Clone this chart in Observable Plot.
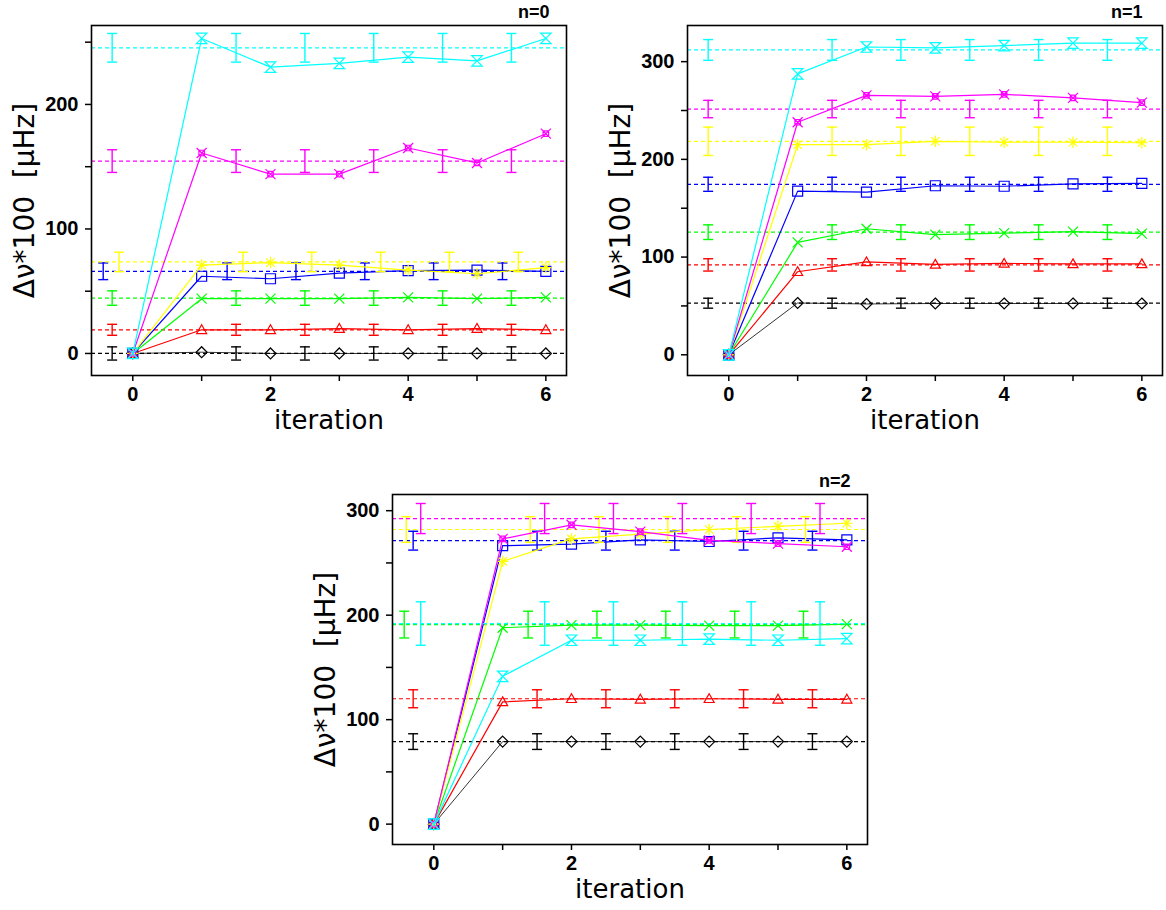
<!DOCTYPE html>
<html><head><meta charset="utf-8">
<script src="https://cdn.jsdelivr.net/npm/d3@7"></script>
<script src="https://cdn.jsdelivr.net/npm/@observablehq/plot@0.6"></script>
<style>
body{margin:0;background:#fff;}
#wrap{position:relative;width:1166px;height:910px;background:#fff;overflow:hidden}
#wrap > svg{position:absolute;}
</style></head><body><div id="wrap"></div>
<script>
// ---------- data ----------
const iterations = [0, 1, 2, 3, 4, 5, 6];
const errBarX = [-0.3, 1.5, 2.5, 3.5, 4.5, 5.5];
const seriesNames = ["black", "red", "green", "blue", "yellow", "magenta", "cyan"];
const seriesColors = ["#000000", "#ff0000", "#00ff00", "#0000ff", "#ffff00", "#ff00ff", "#00ffff"];
const xTicks = [0, 1, 2, 3, 4, 5, 6];

// n = 0
const n0_black   = [0, 1, 0, 0, 0, 0, 0];
const n0_red     = [0, 19, 19, 20, 19, 20, 19];
const n0_green   = [0, 44, 44, 44, 45, 44, 45];
const n0_blue    = [0, 62, 60, 64.5, 66.5, 67, 66];
const n0_yellow  = [0, 71, 73, 71, 67, 64, 69];
const n0_magenta = [0, 161, 144, 144, 165, 153, 176.5];
const n0_cyan    = [0, 253, 230, 233, 238, 235, 253];
const n0_ref     = [0, 19, 44.5, 66, 73.5, 154.5, 245.5];
const n0_err     = [5.3, 4.4, 5.8, 6.7, 7.8, 9.1, 11.5];
const n0_dx      = [0, 0, 0, -0.13, 0.1, 0, 0];
const n0_yTicks  = [0, 50, 100, 150, 200, 250];

// n = 1
const n1_black   = [0, 53, 52, 52.5, 52.5, 52.5, 52.5];
const n1_red     = [0, 85, 95, 92.5, 93.5, 93, 93];
const n1_green   = [0, 115, 129, 123, 124.5, 126, 124];
const n1_blue    = [0, 167.5, 166.5, 173, 172.5, 175, 175.5];
const n1_yellow  = [0, 215, 215, 218.5, 217.5, 217.5, 217];
const n1_magenta = [0, 238, 265.5, 264.5, 266.5, 263, 258];
const n1_cyan    = [0, 287.5, 315, 314, 316.5, 319, 319];
const n1_ref     = [52.8, 92, 125.5, 174.5, 218.5, 251.5, 312];
const n1_err     = [5.1, 6.3, 7.5, 7.2, 14.5, 8.9, 10.6];
const n1_dx      = [0, 0, 0, 0, 0, 0, 0];
const n1_yTicks  = [0, 50, 100, 150, 200, 250, 300];

// n = 2
const n2_black   = [0, 79, 79, 79, 79, 79, 79];
const n2_red     = [0, 117, 120, 119.5, 120, 119.5, 119.5];
const n2_green   = [0, 188, 190.5, 190.5, 190, 190, 191.5];
const n2_blue    = [0, 266.5, 268, 272, 270.5, 274, 272];
const n2_yellow  = [0, 251.5, 273, 277.5, 282, 285, 288];
const n2_magenta = [0, 273, 286.5, 280, 271.5, 268.5, 265.5];
const n2_cyan    = [0, 141.5, 176, 176, 177, 176, 177.5];
const n2_ref     = [79, 120, 191, 271.3, 282, 292.5, 192];
const n2_err     = [7.5, 8.6, 12.8, 9, 12.3, 14.4, 20.8];
const n2_dx      = [0, 0, -0.13, 0, -0.1, 0.11, 0.11];
const n2_yTicks  = [0, 50, 100, 150, 200, 250, 300];

// ---------- symbols ----------
const rad = s => Math.sqrt(s / Math.PI);
const symDiamond = {draw(c, s){const r = rad(s)*1.1; c.moveTo(0,-r); c.lineTo(r,0); c.lineTo(0,r); c.lineTo(-r,0); c.closePath();}};
const symTriangle = {draw(c, s){const r = rad(s); c.moveTo(0,-r); c.lineTo(r,r*0.75); c.lineTo(-r,r*0.75); c.closePath();}};
const symTimes = {draw(c, s){const r = rad(s); c.moveTo(-r,-r); c.lineTo(r,r); c.moveTo(r,-r); c.lineTo(-r,r);}};
const symSquare = {draw(c, s){const r = rad(s); c.moveTo(-r,-r); c.lineTo(r,-r); c.lineTo(r,r); c.lineTo(-r,r); c.closePath();}};
const symAsterisk = {draw(c, s){const r = rad(s)*1.15; const d = r*0.72;
  c.moveTo(0,-r); c.lineTo(0,r); c.moveTo(-r,0); c.lineTo(r,0);
  c.moveTo(-d,-d); c.lineTo(d,d); c.moveTo(d,-d); c.lineTo(-d,d);}};
const symSqX = {draw(c, s){const r = rad(s); const q = r*0.55;
  c.moveTo(-q,-q); c.lineTo(q,-q); c.lineTo(q,q); c.lineTo(-q,q); c.closePath();
  c.moveTo(-r,-r); c.lineTo(r,r); c.moveTo(r,-r); c.lineTo(-r,r);}};
const symHourglass = {draw(c, s){const r = rad(s)*1.05; c.moveTo(-r,-r); c.lineTo(r,-r); c.lineTo(-r,r); c.lineTo(r,r); c.closePath();}};
const symCap = {draw(c, s){const r = rad(s); c.moveTo(-r,0); c.lineTo(r,0);}};
const seriesSymbols = [symDiamond, symTriangle, symTimes, symSquare, symAsterisk, symSqX, symHourglass];

// ---------- panels ----------
const panels = [
  {title: "n=0", vals: [n0_black, n0_red, n0_green, n0_blue, n0_yellow, n0_magenta, n0_cyan], ref: n0_ref, err: n0_err, dx: n0_dx, yTicks: n0_yTicks,
   yDomain: [-17.7, 263.4], left: 0, top: 0, marginLeft: 91, width: 580, titleDx: -17},
  {title: "n=1", vals: [n1_black, n1_red, n1_green, n1_blue, n1_yellow, n1_magenta, n1_cyan], ref: n1_ref, err: n1_err, dx: n1_dx, yTicks: n1_yTicks,
   yDomain: [-21.2, 337], left: 600, top: 0, marginLeft: 87, width: 566, titleDx: -20},
  {title: "n=2", vals: [n2_black, n2_red, n2_green, n2_blue, n2_yellow, n2_magenta, n2_cyan], ref: n2_ref, err: n2_err, dx: n2_dx, yTicks: n2_yTicks,
   yDomain: [-19.5, 315.5], left: 300, top: 469, marginLeft: 92, width: 581, titleDx: -17}
];

const wrap = document.getElementById("wrap");
for (const p of panels) {
  const marks = [];
  seriesNames.forEach((name, k) => {
    const color = seriesColors[k];
    const pts = iterations.map((x, i) => ({x, y: p.vals[k][i]}));
    const bars = errBarX.map(x => ({x: x + p.dx[k], y1: p.ref[k] - p.err[k], y2: p.ref[k] + p.err[k]}));
    const caps = bars.flatMap(b => [{x: b.x, y: b.y1}, {x: b.x, y: b.y2}]);
    marks.push(Plot.ruleY([p.ref[k]], {stroke: color, strokeWidth: 1.2, strokeDasharray: "4,3"}));
    marks.push(Plot.ruleX(bars, {x: "x", y1: "y1", y2: "y2", stroke: color, strokeWidth: 1.4}));
    marks.push(Plot.dot(caps, {x: "x", y: "y", r: 5, symbol: symCap, stroke: color, strokeWidth: 1.4}));
    marks.push(Plot.line(pts, {x: "x", y: "y", stroke: color, strokeWidth: name === "black" ? 0.8 : 1.2}));
    marks.push(Plot.dot(pts, {x: "x", y: "y", r: 5, symbol: seriesSymbols[k], stroke: color, fill: "none", strokeWidth: 1.2}));
  });
  marks.push(Plot.frame({stroke: "#000", strokeWidth: 1.6}));
  marks.push(Plot.axisX({ticks: xTicks, tickFormat: d => d % 2 === 0 ? d : "", tickSize: 6, tickPadding: 5, label: null,
    fontSize: 20, fontWeight: "bold", strokeWidth: 1.5}));
  marks.push(Plot.axisY({ticks: p.yTicks, tickFormat: d => d % 100 === 0 ? d : "", tickSize: 6, tickPadding: 7, label: null,
    fontSize: 20, fontWeight: "bold", strokeWidth: 1.5}));
  marks.push(Plot.text([p.title], {frameAnchor: "top-right", dx: p.titleDx, dy: -8, lineAnchor: "bottom", textAnchor: "end",
    fontSize: 18, fontWeight: "bold", fontFamily: "Liberation Sans, Arial, sans-serif", style: "letter-spacing:1px"}));
  marks.push(Plot.text(["iteration"], {frameAnchor: "bottom", dy: 45, lineAnchor: "middle", textAnchor: "middle",
    fontSize: 26, fontWeight: "normal", fontFamily: "DejaVu Sans, sans-serif"}));
  marks.push(Plot.text(["Δν*100\u00a0\u00a0[μHz]"], {frameAnchor: "left", dx: -66, rotate: -90, lineAnchor: "middle", textAnchor: "middle",
    fontSize: 28, fontWeight: "normal", fontFamily: "DejaVu Sans, sans-serif", style: "letter-spacing:1.5px"}));

  const chart = Plot.plot({
    width: p.width, height: 444,
    marginLeft: p.marginLeft, marginRight: p.width - p.marginLeft - 475, marginTop: 25, marginBottom: 69,
    x: {domain: [-0.6, 6.3], range: [p.marginLeft, p.marginLeft + 475]},
    y: {domain: p.yDomain},
    style: {fontFamily: "Liberation Sans, Arial, sans-serif", fontSize: "20px", color: "#000", background: "transparent", overflow: "visible"},
    marks
  });
  chart.style.left = p.left + "px";
  chart.style.top = p.top + "px";
  wrap.appendChild(chart);
}
</script></body></html>
